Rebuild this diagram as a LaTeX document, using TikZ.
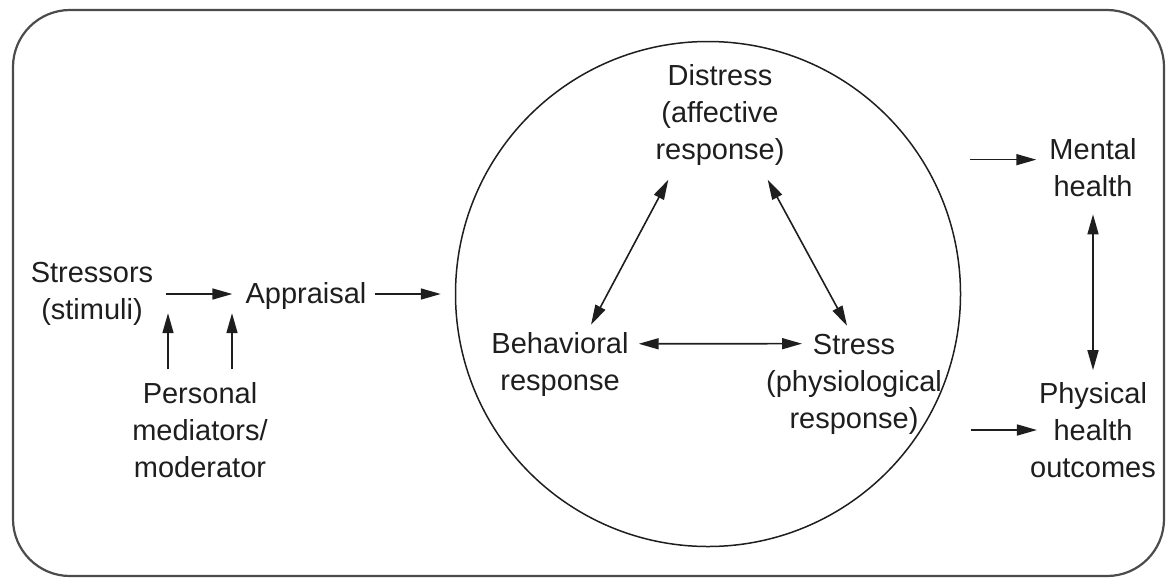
\documentclass[tikz,border=0pt]{standalone}
\usepackage{fontspec}
\setmainfont{Liberation Sans}
\usetikzlibrary{arrows.meta,calc}
\definecolor{ink}{HTML}{1E1E1E}
\begin{document}
\begin{tikzpicture}[x=1pt,y=-1pt,
  txt/.style={font=\fontsize{29}{37}\selectfont, text=ink, align=center, inner sep=0pt},
  tip/.tip={Triangle[length=20pt,width=11pt]},
  arr/.style={draw=ink, line width=1.6pt, -tip},
  dbl/.style={draw=ink, line width=1.6pt, tip-tip}]
\useasboundingbox (0,0) rectangle (1166,579);
\draw[draw=ink!80, line width=2.2pt, rounded corners=57pt] (13,10) rectangle (1164,576);
\node[circle, draw=ink, line width=1.5pt, minimum size=505pt, inner sep=0pt] (C) at (708,294) {};

\node[txt] (Stressors) at (92,294) {Stressors\\(stimuli)};
\node[txt] (Appraisal) at (306,296) {Appraisal};
\node[txt] (Personal) at (200,430) {Personal\\mediators/\\moderator};
\node[txt] (Distress) at (720,115) {Distress\\(affective\\response)};
\node[txt] (Behavioral) at (560,364) {Behavioral\\response};
\node[txt] (Stress) at (854,384) {Stress\\(physiological\\response)};
\node[txt] (Mental) at (1093,168) {Mental\\health};
\node[txt] (Physical) at (1093,430) {Physical\\health\\outcomes};

% left part
\draw[arr, shorten <=13pt, shorten >=13pt] (Stressors.east) -- (Stressors.east -| Appraisal.west);
\draw[arr, shorten <=8pt, shorten >=14pt] ($(Appraisal.east)+(0,-2)$) -- ($(Appraisal.east -| C.west)+(0,-2)$);
\draw[arr] ($(Personal.north)+(-32,-13)$) -- ++(0,-56);
\draw[arr] ($(Personal.north)+(32,-13)$) -- ++(0,-56);

% triangle inside circle
\draw[dbl] ($(Distress.south west)+(13,14)$) -- ($(Behavioral.north)+(31,-7)$);
\draw[dbl] ($(Distress.south east)+(-17,14)$) -- ($(Stress.north)+(-7,-8)$);
\draw[dbl] ($(Behavioral.north east)+(10,12)$) -- ($(Stress.north)+(-52,10)$);

% right part
\draw[arr] ($(Mental.north west)+(-79,21)$) -- ($(Mental.north west)+(-13,21)$);
\draw[arr] ($(Physical.west)+(-59,0)$) -- ($(Physical.west)+(7,0)$);
\draw[dbl, shorten <=17pt, shorten >=12pt] (Mental.south) -- (Physical.north);
\end{tikzpicture}
\end{document}
